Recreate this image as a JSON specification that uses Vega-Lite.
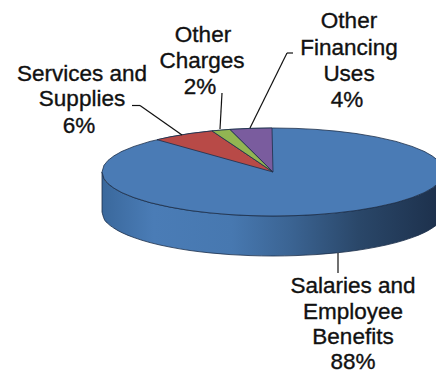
{"$schema":"https://vega.github.io/schema/vega-lite/v6.json","width":436,"height":373,"padding":0,"autosize":{"type":"none"},"background":"white","config":{"view":{"stroke":null}},
"encoding":{"x":{"field":"x","type":"quantitative","scale":{"domain":[0,436],"nice":false,"zero":false},"axis":null},"y":{"field":"y","type":"quantitative","scale":{"domain":[373,0],"nice":false,"zero":false},"axis":null}},
"layer":[
{"data":{"values":[{"x":102,"y":172,"y2":212},{"x":104,"y":178.7,"y2":218.7},{"x":108,"y":183.6,"y2":223.6},{"x":114,"y":188.2,"y2":228.2},{"x":122,"y":192.7,"y2":232.7},{"x":134,"y":197.6,"y2":237.6},{"x":150,"y":202.6,"y2":242.6},{"x":170,"y":207.1,"y2":247.1},{"x":190,"y":210.5,"y2":250.5},{"x":210,"y":212.9,"y2":252.9},{"x":230,"y":214.6,"y2":254.6},{"x":250,"y":215.6,"y2":255.6},{"x":273,"y":216,"y2":256},{"x":296,"y":215.6,"y2":255.6},{"x":316,"y":214.6,"y2":254.6},{"x":336,"y":212.9,"y2":252.9},{"x":356,"y":210.5,"y2":250.5},{"x":376,"y":207.1,"y2":247.1},{"x":396,"y":202.6,"y2":242.6},{"x":412,"y":197.6,"y2":237.6},{"x":424,"y":192.7,"y2":232.7},{"x":432,"y":188.2,"y2":228.2},{"x":438,"y":183.6,"y2":223.6},{"x":442,"y":178.7,"y2":218.7},{"x":444,"y":172,"y2":212}]},
"mark":{"type":"area","clip":true,"interpolate":"monotone","stroke":"#1c2f4a","strokeWidth":0.8,"fill":{"gradient":"linear","x1":0,"y1":0,"x2":1,"y2":0,"stops":[{"offset":0,"color":"#3a689c"},{"offset":0.15,"color":"#4a7cb6"},{"offset":0.38,"color":"#4778b0"},{"offset":0.55,"color":"#3b6493"},{"offset":0.75,"color":"#2a4769"},{"offset":1,"color":"#1c2f4a"}]}},
"encoding":{"y2":{"field":"y2"}}},
{"data":{"values":[{"part":"Salaries and Employee Benefits","x":102,"y":172,"y2":172},{"part":"Salaries and Employee Benefits","x":104,"y":165.3,"y2":178.7},{"part":"Salaries and Employee Benefits","x":108,"y":160.4,"y2":183.6},{"part":"Salaries and Employee Benefits","x":114,"y":155.8,"y2":188.2},{"part":"Salaries and Employee Benefits","x":122,"y":151.3,"y2":192.7},{"part":"Salaries and Employee Benefits","x":134,"y":146.4,"y2":197.6},{"part":"Salaries and Employee Benefits","x":150,"y":141.4,"y2":202.6},{"part":"Salaries and Employee Benefits","x":170,"y":136.9,"y2":207.1},{"part":"Salaries and Employee Benefits","x":190,"y":133.5,"y2":210.5},{"part":"Salaries and Employee Benefits","x":210,"y":131.1,"y2":212.9},{"part":"Salaries and Employee Benefits","x":230,"y":129.4,"y2":214.6},{"part":"Salaries and Employee Benefits","x":250,"y":128.4,"y2":215.6},{"part":"Salaries and Employee Benefits","x":273,"y":128,"y2":216},{"part":"Salaries and Employee Benefits","x":296,"y":128.4,"y2":215.6},{"part":"Salaries and Employee Benefits","x":316,"y":129.4,"y2":214.6},{"part":"Salaries and Employee Benefits","x":336,"y":131.1,"y2":212.9},{"part":"Salaries and Employee Benefits","x":356,"y":133.5,"y2":210.5},{"part":"Salaries and Employee Benefits","x":376,"y":136.9,"y2":207.1},{"part":"Salaries and Employee Benefits","x":396,"y":141.4,"y2":202.6},{"part":"Salaries and Employee Benefits","x":412,"y":146.4,"y2":197.6},{"part":"Salaries and Employee Benefits","x":424,"y":151.3,"y2":192.7},{"part":"Salaries and Employee Benefits","x":432,"y":155.8,"y2":188.2},{"part":"Salaries and Employee Benefits","x":438,"y":160.4,"y2":183.6},{"part":"Salaries and Employee Benefits","x":442,"y":165.3,"y2":178.7},{"part":"Salaries and Employee Benefits","x":444,"y":172,"y2":172},
{"part":"Services and Supplies","x":157,"y":139.7,"y2":139.7},{"part":"Services and Supplies","x":170,"y":136.9,"y2":143.3},{"part":"Services and Supplies","x":190,"y":133.5,"y2":148.9},{"part":"Services and Supplies","x":212,"y":130.9,"y2":155},{"part":"Services and Supplies","x":273,"y":172,"y2":172},
{"part":"Other Charges","x":212,"y":130.9,"y2":130.9},{"part":"Other Charges","x":221,"y":130.1,"y2":137},{"part":"Other Charges","x":230,"y":129.4,"y2":143},{"part":"Other Charges","x":273,"y":172,"y2":172},
{"part":"Other Financing Uses","x":230,"y":129.4,"y2":129.4},{"part":"Other Financing Uses","x":250,"y":128.4,"y2":149.2},{"part":"Other Financing Uses","x":272,"y":128,"y2":171},{"part":"Other Financing Uses","x":273,"y":172,"y2":172}]},
"mark":{"type":"area","clip":true,"stroke":"#1c2f4a","strokeWidth":0.8,"fillOpacity":1},
"encoding":{"y2":{"field":"y2"},"fill":{"field":"part","type":"nominal","legend":null,"sort":null,"scale":{"domain":["Salaries and Employee Benefits","Services and Supplies","Other Charges","Other Financing Uses"],"range":["#4a7bb5","#b84a47","#92b552","#7a5c9e"]}}}},
{"data":{"values":[{"x":132,"y":105.5,"x2":140,"y2":105.5},{"x":140,"y":105.5,"x2":182,"y2":135},{"x":222,"y":93,"x2":220,"y2":129},{"x":293,"y":53,"x2":287,"y2":53},{"x":287,"y":53,"x2":250,"y2":128},{"x":338,"y":253,"x2":338,"y2":273}]},
"mark":{"type":"rule","color":"#111111","strokeWidth":1.2},
"encoding":{"x2":{"field":"x2"},"y2":{"field":"y2"}}},
{"data":{"values":[{"t":"Other","x":349,"y":21},{"t":"Financing","x":349,"y":48},{"t":"Uses","x":349,"y":74},{"t":"4%","x":347,"y":100},{"t":"Other","x":203,"y":35},{"t":"Charges","x":202,"y":61},{"t":"2%","x":200,"y":87},{"t":"Services and","x":82,"y":74},{"t":"Supplies","x":82,"y":99},{"t":"6%","x":79,"y":126},{"t":"Salaries and","x":353,"y":286},{"t":"Employee","x":353,"y":312},{"t":"Benefits","x":353,"y":337},{"t":"88%","x":353,"y":362}]},
"mark":{"type":"text","font":"Liberation Sans","fontSize":22.5,"color":"#111111","stroke":"#111111","strokeWidth":0.35,"align":"center","baseline":"middle"},
"encoding":{"text":{"field":"t"}}}
]}
